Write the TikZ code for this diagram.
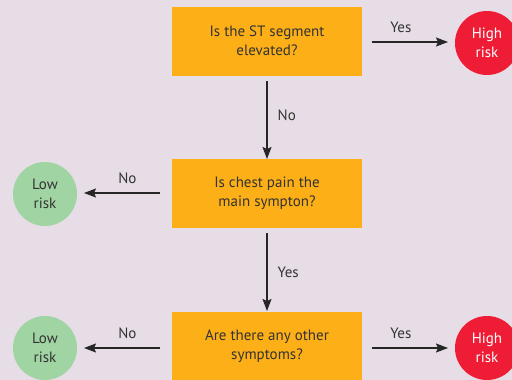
\documentclass[tikz,border=0pt]{standalone}
\usepackage{fontspec}
\setmainfont{PT Sans}
\usetikzlibrary{arrows.meta}
\definecolor{bg}{HTML}{E6DDE6}
\definecolor{qorange}{HTML}{FCAF17}
\definecolor{lowgreen}{HTML}{A0D4A3}
\definecolor{highred}{HTML}{EE1C35}
\definecolor{txt}{HTML}{333333}
\begin{document}
\begin{tikzpicture}[x=1pt,y=-1pt,
  question/.style={fill=qorange,minimum width=190pt,minimum height=69pt,inner sep=0pt,align=center,text=txt,font=\fontsize{15}{19}\selectfont},
  lowc/.style={circle,fill=lowgreen,minimum size=64pt,inner sep=0pt,align=center,text=txt,font=\fontsize{15}{19}\selectfont},
  highc/.style={circle,fill=highred,minimum size=64pt,inner sep=0pt,align=center,text=white,font=\fontsize{15}{19}\selectfont},
  conn/.style={draw=black!85,line width=1.4pt,-{Stealth[length=12pt,width=9pt,inset=2pt]}},
  lab/.style={text=txt,font=\fontsize{15}{17}\selectfont,inner sep=1pt}]
\fill[bg] (0,0) rectangle (512,380);
\useasboundingbox (0,0) rectangle (512,380);
\node[question] (q1) at (267,41) {Is the ST segment\\elevated?};
\node[question] (q2) at (267,193.5) {Is chest pain the\\main sympton?};
\node[question] (q3) at (267,346.5) {Are there any other\\symptoms?};
\node[highc] (h1) at (487,43) {High\\risk};
\node[lowc] (l2) at (45,194) {Low\\risk};
\node[lowc] (l3) at (45,348) {Low\\risk};
\node[highc] (h3) at (487,348) {High\\risk};
\coordinate (a1s) at (372,42);
\coordinate (a1e) at (448,42);
\coordinate (v1s) at (267,81);
\coordinate (v1e) at (267,159);
\coordinate (v2s) at (267,233);
\coordinate (v2e) at (267,311);
\coordinate (b2s) at (160,193);
\coordinate (b2e) at (84,193);
\coordinate (b3s) at (160,348);
\coordinate (b3e) at (84,348);
\coordinate (c3s) at (372,348);
\coordinate (c3e) at (448,348);
\draw[conn] (a1s) -- (a1e) node[lab,pos=0.38,above=8pt] {Yes};
\draw[conn] (v1s) -- (v1e) node[lab,pos=0.44,right=9pt] {No};
\draw[conn] (v2s) -- (v2e) node[lab,midway,right=9pt] {Yes};
\draw[conn] (b2s) -- (b2e) node[lab,pos=0.43,above=8pt] {No};
\draw[conn] (b3s) -- (b3e) node[lab,pos=0.43,above=8pt] {No};
\draw[conn] (c3s) -- (c3e) node[lab,pos=0.38,above=8pt] {Yes};
\end{tikzpicture}
\end{document}
